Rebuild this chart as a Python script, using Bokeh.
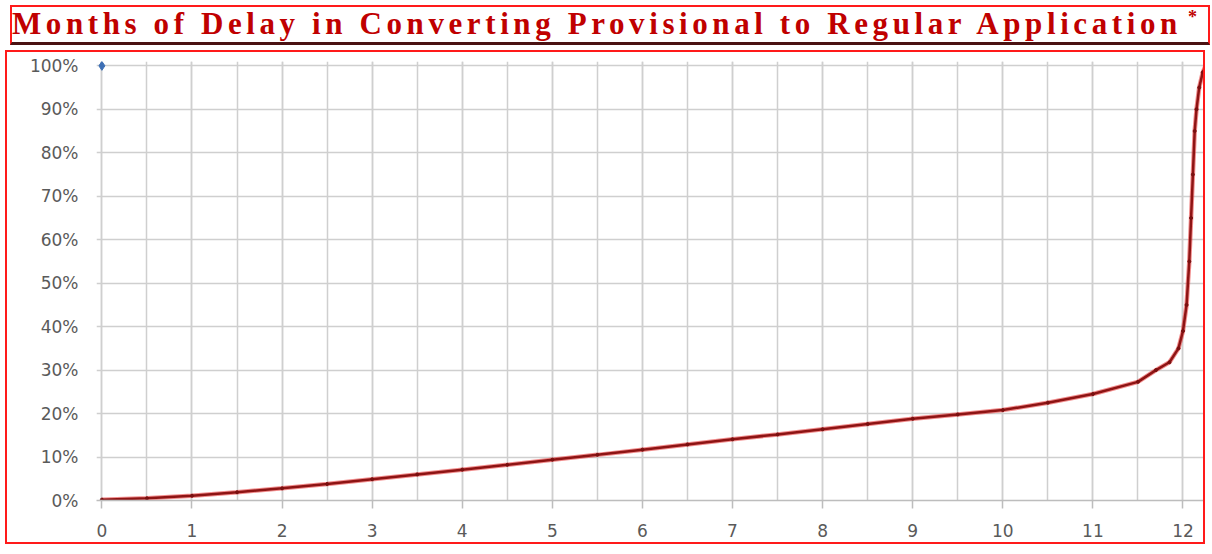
from bokeh.plotting import figure
from bokeh.layouts import column
from bokeh.models import Range1d, Div, SingleIntervalTicker, FixedTicker, NumeralTickFormatter
from bokeh.embed import file_html
from bokeh.resources import INLINE

# ---- data ----
title_text = "Months of Delay in Converting Provisional to Regular Application"
months = [0, 0.5, 1, 1.5, 2, 2.5, 3, 3.5, 4, 4.5, 5, 5.5, 6, 6.5, 7, 7.5, 8, 8.5,
          9, 9.5, 10, 10.5, 11, 11.5, 11.7, 11.85, 11.95, 12.0, 12.04, 12.07,
          12.09, 12.11, 12.13, 12.15, 12.18, 12.22, 12.25]
share = [0.002, 0.005, 0.011, 0.019, 0.028, 0.038, 0.049, 0.060, 0.071, 0.082,
         0.094, 0.105, 0.117, 0.129, 0.141, 0.152, 0.164, 0.176, 0.188, 0.198,
         0.208, 0.225, 0.245, 0.273, 0.300, 0.318, 0.350, 0.390, 0.450, 0.550,
         0.650, 0.750, 0.850, 0.900, 0.950, 0.985, 1.000]
marker_x = [0]
marker_y = [1.0]
y_ticks = [0, 0.1, 0.2, 0.3, 0.4, 0.5, 0.6, 0.7, 0.8, 0.9, 1.0]

RED = "#ff1a1a"
TITLE_RED = "#c00000"
GRID = "#cfcfcf"
LABEL = "#5a5a5a"

# ---- title box ----
title_html = (title_text +
              '<span style="position:relative; top:-11px; left:6px; font-size:18px; letter-spacing:0">*</span>')
t = Div(text=title_html, width=1200, height=40,
        styles={"border": "2px solid " + RED, "border-bottom": "3px solid #4a1212",
                "box-sizing": "border-box", "background": "white",
                "font-family": "Liberation Serif", "font-weight": "bold",
                "font-size": "31px", "color": TITLE_RED, "letter-spacing": "4.6px",
                "line-height": "34px", "white-space": "nowrap",
                "padding-left": "0px"})

# ---- main chart ----
p = figure(width=1200, height=494, x_range=Range1d(-0.06, 12.25), y_range=Range1d(0, 1.01),
           toolbar_location=None, output_backend="svg",
           min_border_left=89, min_border_right=2, min_border_top=9, min_border_bottom=46)
p.outline_line_color = None
p.styles = {"border": "2px solid " + RED, "box-sizing": "border-box"}

p.xaxis.ticker = SingleIntervalTicker(interval=1, num_minor_ticks=2)
p.yaxis.ticker = FixedTicker(ticks=y_ticks)
p.yaxis.formatter = NumeralTickFormatter(format="0%")

for ax in (p.xaxis, p.yaxis):
    ax.axis_line_color = "#bdbdbd"
    ax.axis_line_width = 1.5
    ax.major_tick_line_color = "#bdbdbd"
    ax.major_tick_line_width = 1.5
    ax.major_tick_out = 8
    ax.major_tick_in = 0
    ax.minor_tick_line_color = None
    ax.major_label_text_font = "DejaVu Sans"
    ax.major_label_text_font_size = "17px"
    ax.major_label_text_color = LABEL
    ax.major_label_standoff = 15
p.yaxis.axis_line_color = None
p.yaxis.major_tick_out = 0
p.yaxis.major_label_standoff = 18

p.xgrid.grid_line_color = GRID
p.xgrid.grid_line_width = 1.5
p.xgrid.minor_grid_line_color = GRID
p.xgrid.minor_grid_line_width = 1.5
p.ygrid.grid_line_color = GRID
p.ygrid.grid_line_width = 1.5

p.line(months, share, line_color="#e53030", line_width=4.5, line_alpha=0.55)
p.line(months, share, line_color="#8e1414", line_width=2.5)
p.scatter(months, share, size=3, color="#7a1010")
p.scatter(marker_x, marker_y, size=9, marker="diamond", color="#3d6fb5")

layout = column(t, p, spacing=0, styles={"margin-left": "5px"})
open("out.html", "w").write(file_html(layout, INLINE))
